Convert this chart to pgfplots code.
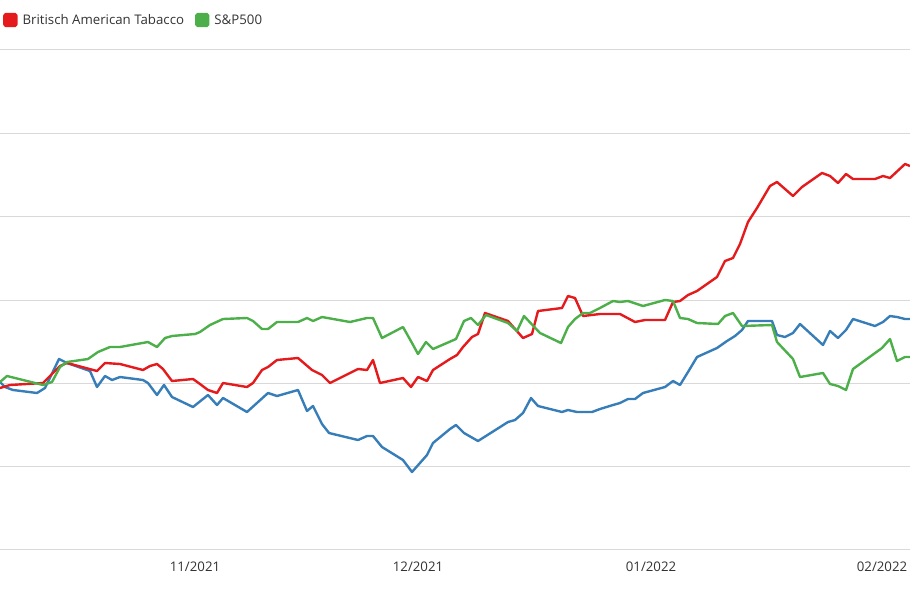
\documentclass[border=0pt]{standalone}
\usepackage{fontspec}
\setmainfont{Open Sans}
\usepackage{pgfplots}
\pgfplotsset{compat=1.18}
\definecolor{batred}{HTML}{E41A1C}
\definecolor{spgreen}{HTML}{4DAF4A}
\definecolor{thirdblue}{HTML}{377EB8}
\definecolor{gridgray}{HTML}{D9D9D9}
\definecolor{txt}{HTML}{333333}

\begin{document}
\begin{tikzpicture}
\begin{axis}[
  scale only axis,
  width=910bp, height=499bp,
  xmin=0, xmax=910, ymin=50, ymax=549,
  y dir=reverse,
  axis line style={draw=none},
  ytick={50,133,216,300,383,466,549},
  yticklabels={},
  ymajorgrids,
  grid style={gridgray, line width=1bp},
  xtick={195,418,651,882},
  xticklabels={11/2021,12/2021,01/2022,02/2022},
  major tick length=0pt,
  tick label style={font=\fontsize{13.3}{15}\selectfont, text=txt},
  xticklabel style={yshift=-9bp},
  legend style={at={(0,1)}, anchor=west, yshift=30bp, xshift=3bp,
    draw=none, fill=none, inner sep=0pt, legend columns=-1,
    font=\fontsize{13.3}{15}\selectfont, text=txt,
    /tikz/every odd column/.append style={column sep=3bp},
    /tikz/every even column/.append style={column sep=9bp}},
  legend cell align=left,
  every axis plot/.append style={line width=2.4bp, line join=round},
]
\addplot[thirdblue, forget plot] coordinates {
(0,382) (5,387) (13,390) (37,393) (45,388) (59,359) (67,363) (90,371) (97,387)
(105,376) (112,380) (120,377) (143,380) (148,383) (157,395) (164,385) (172,397)
(193,407) (208,395) (217,405) (223,398) (247,412) (268,393) (277,396) (298,390)
(307,411) (313,406) (322,424) (329,433) (358,440) (367,436) (373,436) (382,447)
(403,460) (412,472) (427,455) (433,443) (450,429) (456,425) (464,433) (478,441)
(508,422) (515,420) (523,413) (531,398) (538,406) (562,412) (568,410) (577,412)
(592,412) (600,409) (613,405) (620,403) (628,399) (635,399) (643,393) (665,387)
(673,381) (680,385) (688,372) (697,357) (717,348) (727,341) (735,336) (742,330)
(748,321) (772,321) (777,335) (785,337) (793,333) (800,324) (823,345) (830,331)
(838,338) (846,330) (853,319) (875,326) (883,322) (890,316) (897,317) (905,319)
(910,319)
};
\addplot[batred, legend image code/.code={\fill[batred, rounded corners=1.5bp] (0bp,-6bp) rectangle (12bp,6bp);}] coordinates {
(0,388) (10,385) (43,383) (60,366) (67,363) (97,371) (105,363) (120,364) (143,370)
(150,366) (157,364) (163,369) (172,381) (193,379) (200,384) (208,390) (217,393)
(223,383) (247,387) (253,383) (262,370) (268,367) (277,360) (298,358) (312,370)
(322,375) (330,383) (350,373) (358,369) (367,370) (373,360) (380,383) (403,378)
(411,387) (418,377) (427,381) (433,370) (450,359) (457,355) (463,347) (472,337)
(478,334) (485,313) (508,321) (523,338) (532,334) (538,311) (562,308) (568,296)
(575,298) (583,316) (600,314) (620,314) (635,322) (645,320) (665,320) (673,302)
(680,301) (688,295) (697,291) (717,277) (725,261) (733,258) (740,244) (748,222)
(757,208) (770,186) (777,182) (793,196) (802,187) (822,173) (830,176) (838,183)
(846,174) (853,179) (875,179) (883,176) (890,178) (905,164) (910,166)
};
\addlegendentry{Britisch American Tabacco}
\addplot[spgreen, legend image code/.code={\fill[spgreen, rounded corners=1.5bp] (0bp,-6bp) rectangle (12bp,6bp);}] coordinates {
(0,382) (7,376) (43,385) (52,382) (60,367) (67,362) (88,359) (98,352) (110,347)
(120,347) (148,342) (157,347) (165,338) (172,336) (195,334) (200,332) (210,325)
(223,319) (247,318) (253,321) (262,329) (268,329) (277,322) (298,322) (307,318)
(313,321) (322,317) (350,322) (367,318) (373,318) (382,338) (403,327) (412,343)
(418,354) (426,342) (433,349) (456,339) (464,321) (471,318) (478,325) (486,315)
(508,323) (517,331) (524,316) (540,333) (561,343) (568,327) (575,319) (583,313)
(590,313) (600,308) (613,301) (620,302) (628,301) (643,306) (665,300) (673,301)
(680,318) (688,319) (697,323) (718,324) (725,316) (733,313) (742,326) (772,325)
(777,342) (793,359) (800,377) (823,373) (830,384) (838,386) (846,390) (853,369)
(882,348) (890,339) (897,361) (905,357) (910,357)
};
\addlegendentry{S\&P500}
\end{axis}
\pgfresetboundingbox
\path[use as bounding box] ([yshift=-47bp]current axis.south west) rectangle ([yshift=50bp]current axis.north east);
\end{tikzpicture}
\end{document}
